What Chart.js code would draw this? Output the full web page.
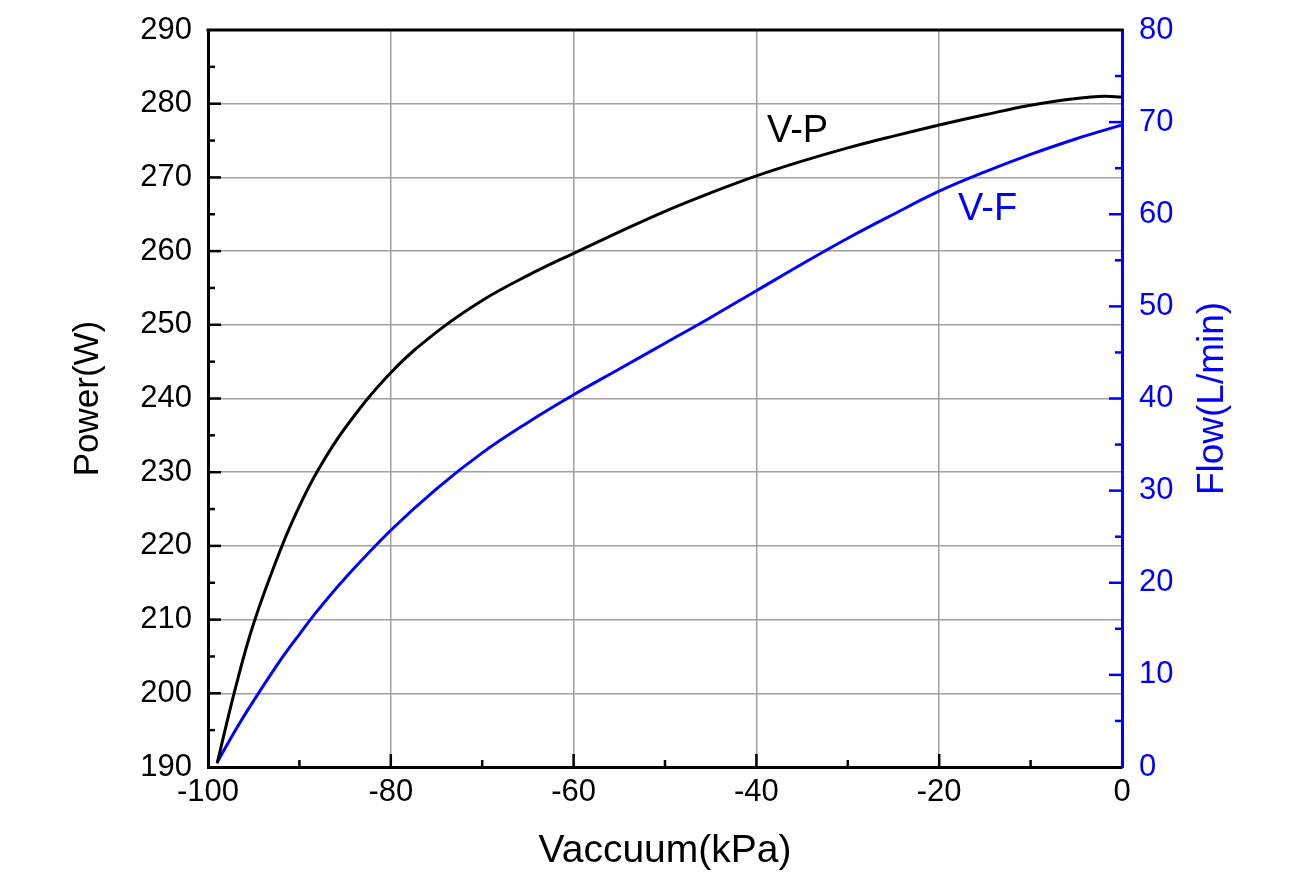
<!DOCTYPE html>
<html>
<head>
<meta charset="utf-8">
<script src="https://cdn.jsdelivr.net/npm/chart.js@4.4.0/dist/chart.umd.min.js"></script>
<style>
  html, body { margin: 0; padding: 0; background: #fff; }
  #wrap { width: 1305px; height: 891px; }
</style>
</head>
<body>
<div id="wrap"><canvas id="myChart"></canvas></div>
<script>
// values
const vacuum = [-99, -97, -95, -92, -90, -88, -85, -80, -75, -70, -65, -60, -55, -50, -45, -40, -35, -30, -25, -20, -15, -10, -5, -2, 0];
const power = [190.5, 200.7, 209.5, 219.7, 225.4, 230.2, 236.0, 243.5, 249.0, 253.3, 256.7, 259.7, 262.6, 265.4, 267.9, 270.2, 272.2, 274.0, 275.6, 277.1, 278.5, 279.8, 280.7, 281.0, 280.9];
const flow = [0.5, 4.0, 7.2, 11.7, 14.4, 17.0, 20.5, 25.7, 30.2, 34.1, 37.4, 40.4, 43.2, 46.0, 48.8, 51.7, 54.6, 57.4, 60.0, 62.5, 64.6, 66.5, 68.2, 69.1, 69.7];

const xRange = [-100, 0];
const powerRange = [190, 290];
const flowRange = [0, 80];

const BLUE = "#0000ff";
const GRID = "#a0a0a0";
Chart.defaults.font.family = "'Liberation Sans', Arial, sans-serif";
Chart.defaults.color = "#000";

const ctx = document.getElementById("myChart");

const toPoints = (ys) => vacuum.map((v, i) => ({ x: v, y: ys[i] }));

// inner ticks, top frame, curve labels and right title
const extras = {
  id: "extras",
  afterDraw(chart) {
    const c = chart.ctx;
    const a = chart.chartArea;
    const x = chart.scales.x;
    const yl = chart.scales.y;
    const yr = chart.scales.y2;
    c.save();
    c.lineCap = "butt";
    c.strokeStyle = "#000";
    c.lineWidth = 3;
    c.beginPath();
    c.moveTo(a.left - 1.5, a.top);
    c.lineTo(a.right + 1.5, a.top);
    c.stroke();

    c.lineWidth = 2.5;
    for (let v = xRange[0] + 10; v < xRange[1]; v += 10) {
      const px = x.getPixelForValue(v);
      const len = v % 20 === 0 ? 13 : 7;
      c.beginPath();
      c.moveTo(px, a.bottom);
      c.lineTo(px, a.bottom - len);
      c.stroke();
    }
    for (let v = powerRange[0] + 5; v < powerRange[1]; v += 5) {
      const py = yl.getPixelForValue(v);
      const len = v % 10 === 0 ? 13 : 7;
      c.beginPath();
      c.moveTo(a.left, py);
      c.lineTo(a.left + len, py);
      c.stroke();
    }
    c.strokeStyle = BLUE;
    for (let v = flowRange[0] + 5; v < flowRange[1]; v += 5) {
      const py = yr.getPixelForValue(v);
      const len = v % 10 === 0 ? 13 : 7;
      c.beginPath();
      c.moveTo(a.right, py);
      c.lineTo(a.right - len, py);
      c.stroke();
    }

    c.font = "38px 'Liberation Sans', Arial, sans-serif";
    c.textAlign = "center";
    c.textBaseline = "middle";
    c.fillStyle = "#000";
    c.fillText("V-P", x.getPixelForValue(-35.5), yl.getPixelForValue(276.2));
    c.fillStyle = BLUE;
    c.fillText("V-F", x.getPixelForValue(-14.7), yr.getPixelForValue(60.5));

    c.font = "37px 'Liberation Sans', Arial, sans-serif";
    c.translate(1213, (a.top + a.bottom) / 2);
    c.rotate(-Math.PI / 2);
    c.fillText("Flow(L/min)", 0, 0);
    c.restore();
  }
};

const edgeGrid = (lo, hi) => (c) =>
  c.tick && (c.tick.value === lo || c.tick.value === hi) ? "rgba(0,0,0,0)" : GRID;

// fixed axis boxes so the plot area sits where the reference has it
const fixWidth = (w) => (s) => { s.width = w; s.paddingTop = 0; s.paddingBottom = 0; };

const data = {
  datasets: [
    {
      label: "V-P",
      data: toPoints(power),
      borderColor: "#000",
      borderWidth: 3,
      pointRadius: 0,
      tension: 0.4,
      yAxisID: "y",
    },
    {
      label: "V-F",
      data: toPoints(flow),
      borderColor: BLUE,
      borderWidth: 3,
      pointRadius: 0,
      tension: 0.4,
      yAxisID: "y2",
    },
  ],
};

const config = {
  type: "line",
  data,
  options: {
    responsive: true,
    maintainAspectRatio: false,
    animation: false,
    layout: { padding: { top: 30, left: 0, right: 0, bottom: 0 } },
    plugins: { legend: { display: false }, tooltip: { enabled: false } },
    scales: {
      x: {
        type: "linear",
        min: xRange[0],
        max: xRange[1],
        ticks: { stepSize: 20, font: { size: 31 }, padding: 7, color: "#000" },
        grid: { color: edgeGrid(xRange[0], xRange[1]), lineWidth: 1.5, drawTicks: false },
        border: { display: true, color: "#000", width: 3 },
        title: { display: true, text: "Vaccuum(kPa)", font: { size: 39 }, color: "#000", padding: { top: 0, bottom: 16 } },
        afterFit: (s) => { s.height = 124; s.paddingLeft = 0; s.paddingRight = 0; },
      },
      y: {
        position: "left",
        min: powerRange[0],
        max: powerRange[1],
        ticks: { stepSize: 10, font: { size: 31 }, padding: 16, color: "#000" },
        grid: { color: edgeGrid(powerRange[0], powerRange[1]), lineWidth: 1.5, drawTicks: false },
        border: { display: true, color: "#000", width: 3 },
        title: { display: true, text: "Power(W)", font: { size: 35 }, color: "#000", padding: { top: 67, bottom: 0 } },
        afterFit: fixWidth(208),
      },
      y2: {
        position: "right",
        min: flowRange[0],
        max: flowRange[1],
        ticks: { stepSize: 10, font: { size: 31 }, padding: 17, color: BLUE },
        grid: { display: false, drawTicks: false },
        border: { display: true, color: BLUE, width: 3 },
        afterFit: fixWidth(183),
      },
    },
  },
  plugins: [extras],
};

let myChart = new Chart(ctx, config);
</script>
</body>
</html>
